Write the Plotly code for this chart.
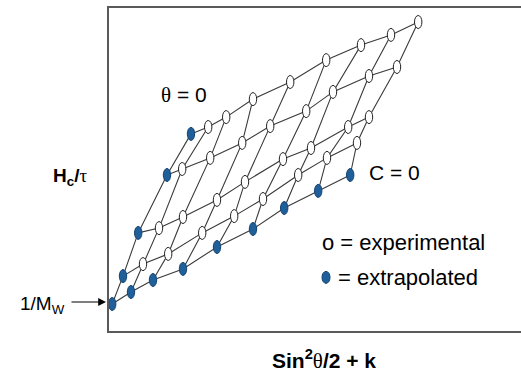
import plotly.graph_objects as go

# Zimm plot data: x = sin^2(theta/2) + k*c, y = Hc/tau
# rows: concentration index (row 0 = C=0 extrapolated), columns: angle index (col 0 = theta=0 extrapolated)
zimm_x = [
    [0.008, 0.055, 0.110, 0.185, 0.270, 0.360, 0.438, 0.523, 0.603],
    [0.035, 0.085, 0.148, 0.233, 0.313, 0.385, 0.473, 0.545, 0.620],
    [0.073, 0.125, 0.185, 0.270, 0.340, 0.435, 0.505, 0.598, 0.650],
    [0.145, 0.183, 0.253, 0.333, 0.403, 0.493, 0.560, 0.650, 0.720],
    [0.205, 0.248, 0.293, 0.360, 0.453, 0.543, 0.630, 0.705, 0.773],
]
zimm_y = [
    [0.090, 0.130, 0.170, 0.207, 0.280, 0.340, 0.410, 0.467, 0.520],
    [0.183, 0.223, 0.257, 0.327, 0.383, 0.440, 0.520, 0.577, 0.627],
    [0.327, 0.343, 0.380, 0.437, 0.497, 0.573, 0.610, 0.680, 0.713],
    [0.520, 0.540, 0.577, 0.627, 0.683, 0.733, 0.797, 0.850, 0.880],
    [0.657, 0.680, 0.713, 0.773, 0.830, 0.903, 0.953, 0.987, 1.030],
]

x_label = "<b>Sin<sup>2</sup><span style='font-family:Liberation Serif;font-weight:normal'>θ</span>/2 + k</b>"
y_label = "<b>H<sub>c</sub>/<span style='font-family:Liberation Serif;font-weight:normal'>τ</span></b>"
theta_label = "<span style='font-family:Liberation Serif'>θ</span> = 0"
c_label = "C = 0"
legend_exp = "o = experimental"
legend_ext = "= extrapolated"
mw_label = "1/M<sub>W</sub>"

LINE_COL = "#3a3a3a"
BLUE = "#1f5f9a"
BLUE_EDGE = "#15426e"

n_rows = len(zimm_x)
n_cols = len(zimm_x[0])

fig = go.Figure()

# constant-concentration lines
for j in range(n_rows):
    fig.add_trace(go.Scatter(x=zimm_x[j], y=zimm_y[j], mode="lines",
                             line=dict(color=LINE_COL, width=1.1),
                             hoverinfo="skip", showlegend=False))
# constant-angle lines
for i in range(n_cols):
    fig.add_trace(go.Scatter(x=[zimm_x[j][i] for j in range(n_rows)],
                             y=[zimm_y[j][i] for j in range(n_rows)],
                             mode="lines", line=dict(color=LINE_COL, width=1.1),
                             hoverinfo="skip", showlegend=False))

shapes = []
for j in range(n_rows):
    for i in range(n_cols):
        extrap = (i == 0 or j == 0)
        shapes.append(dict(
            type="circle", xref="x", yref="y",
            xsizemode="pixel", ysizemode="pixel",
            xanchor=zimm_x[j][i], yanchor=zimm_y[j][i],
            x0=-3.7, x1=3.7, y0=-6.5, y1=6.5,
            fillcolor=BLUE if extrap else "white",
            line=dict(color=BLUE_EDGE if extrap else "#222222", width=1),
            layer="above"))

# legend dot for extrapolated
shapes.append(dict(type="circle", xref="paper", yref="paper",
                   xsizemode="pixel", ysizemode="pixel",
                   xanchor=0.5267, yanchor=0.166,
                   x0=-4, x1=4, y0=-6, y1=6,
                   fillcolor=BLUE, line=dict(color=BLUE_EDGE, width=1)))

def note(text, x, y, size, xanchor="center"):
    return dict(text=text, x=x, y=y, xref="paper", yref="paper",
                xanchor=xanchor, yanchor="middle", showarrow=False,
                font=dict(size=size, color="black"))

font_main = "Liberation Sans, Arial, sans-serif"
annotations = [
    note(theta_label, 0.182, 0.731, 21),
    note(c_label, 0.692, 0.492, 21),
    note(legend_exp, 0.5125, 0.2755, 22, "left"),
    note(legend_ext, 0.552, 0.167, 22, "left"),
    note(y_label, -0.0947, 0.477, 19),
    note(mw_label, -0.101, 0.082, 19, "right"),
    dict(text="", x=-0.0073, y=0.0898, xref="paper", yref="paper",
         showarrow=True, ax=-36, ay=0, arrowhead=2, arrowsize=1.3,
         arrowwidth=1.2, arrowcolor="black"),
    note(x_label, 0.522, -0.087, 21),
]

fig.update_layout(
    width=521, height=373,
    margin=dict(l=109, r=0, t=8, b=42),
    paper_bgcolor="white", plot_bgcolor="white",
    font=dict(family=font_main, color="black"),
    shapes=shapes, annotations=annotations,
    xaxis=dict(range=[0, 1.03], showgrid=False, zeroline=False,
               showticklabels=False, ticks="", showline=True,
               linecolor="#5a5a5a", linewidth=2, mirror=True),
    yaxis=dict(range=[0, 1.07667], showgrid=False, zeroline=False,
               showticklabels=False, ticks="", showline=True,
               linecolor="#5a5a5a", linewidth=2, mirror=False),
    showlegend=False,
)

fig.write_html("out.html", config={"displayModeBar": False},
               post_script="document.body.style.margin='0';document.body.style.overflow='hidden';")
